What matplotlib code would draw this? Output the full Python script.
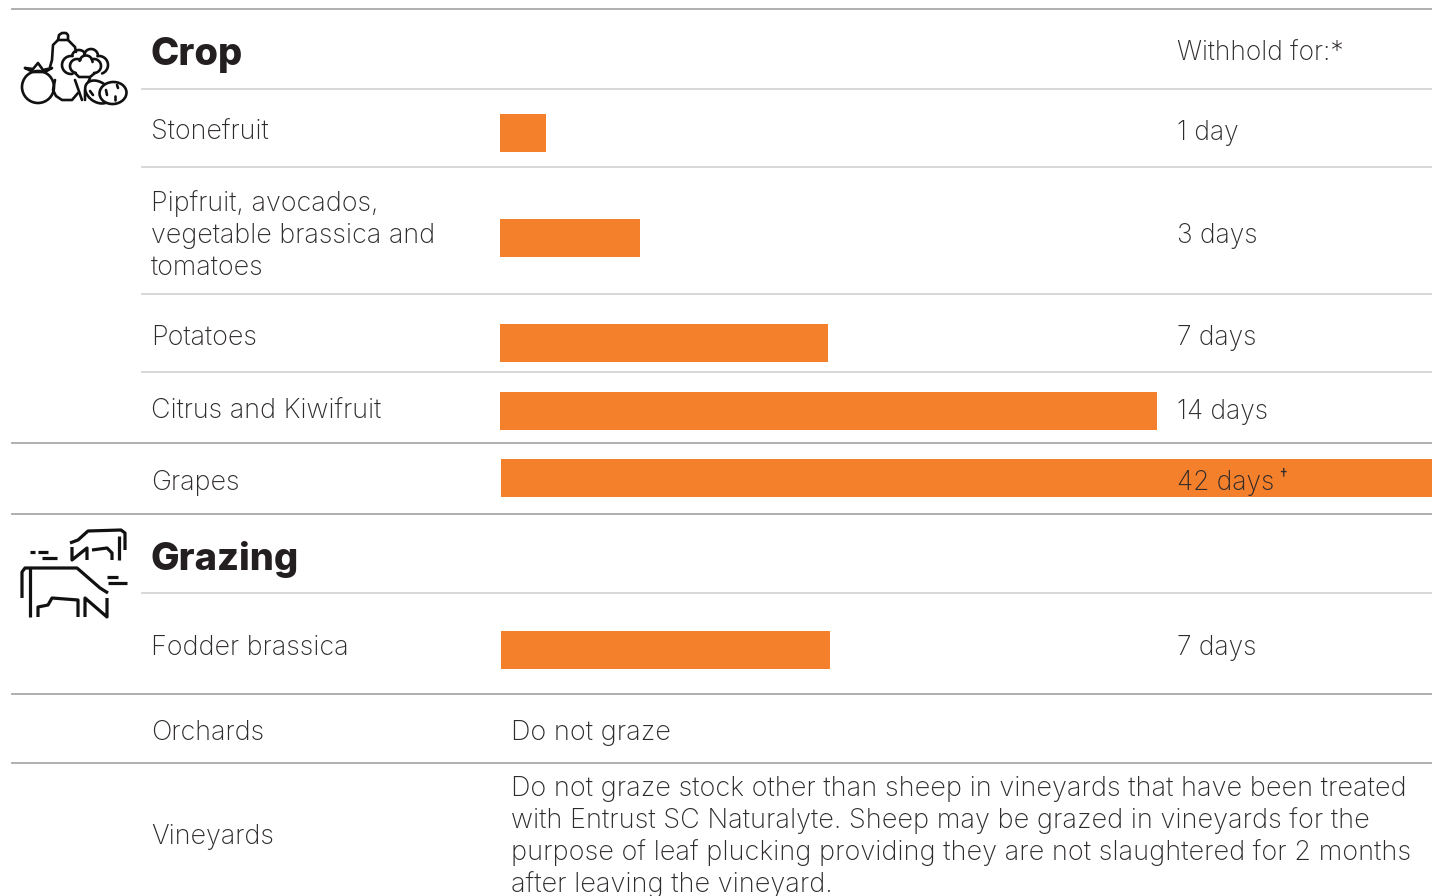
#!/usr/bin/env python3
"""Withholding periods for crops and grazing, drawn as a table with bars."""

import numpy as np
import matplotlib
matplotlib.use('Agg')
import matplotlib.pyplot as plt
from matplotlib.patches import Circle, Ellipse

# Data
bar_days = [1, 3, 7, 14, 42, 7]
bar_rows = [133, 238, 343, 411, 478, 650]
bar_offsets = [0, 0, 0, 0.02, 0.04, 0.04]

crop_names = [['Stonefruit'], ['Pipfruit, avocados,', 'vegetable brassica and', 'tomatoes'],
              ['Potatoes'], ['Citrus and Kiwifruit'], ['Grapes'], ['Fodder brassica'],
              ['Orchards'], ['Vineyards']]
crop_baselines = [[140], [211, 243, 275], [345], [419], [490], [655], [740], [844]]
period_labels = ['1 day', '3 days', '7 days', '14 days', '42 days', '7 days']
period_baselines = [140, 243, 345, 419, 490, 655]
notes = ['Do not graze',
         'Do not graze stock other than sheep in vineyards that have been treated',
         'with Entrust SC Naturalyte. Sheep may be grazed in vineyards for the',
         'purpose of leaf plucking providing they are not slaughtered for 2 months',
         'after leaving the vineyard.']
note_baselines = [740, 796, 828, 860, 892]

dark_rules = [(9, 11), (443, 11), (514, 11), (694, 11), (763, 11)]
light_rules = [(89, 141), (167, 141), (294, 141), (372, 141), (593, 141)]

ORANGE = '#f5802b'
TEXT = '#2f2b2c'
INK = '#111111'
PX_PER_DAY = 46.9


def scallop(ax, cx, cy, r, a0, a1, **kw):
    """Arc of a bump, angles in degrees as seen on screen."""
    t = np.radians(np.linspace(a0, a1, 30))
    ax.plot(cx + r * np.cos(t), cy - r * np.sin(t), **kw)


def draw_crop_icon(ax):
    """Vegetable pile, drawn from outlines."""
    kw = dict(color=INK, lw=1.9, solid_capstyle='round', solid_joinstyle='round')
    # squash
    ax.plot([50, 52, 53, 58, 68, 75, 76], [67, 60, 45, 40, 40, 47, 52], **kw)
    ax.plot([58, 59, 62, 66, 68, 68], [40, 35, 33, 33, 35, 40], **kw)
    ax.plot([55, 53, 56, 62, 72, 78], [80, 90, 96, 100, 100, 93], **kw)
    # tomato
    ax.add_patch(Circle((38, 87), 16, fill=False, ec=INK, lw=1.9))
    ax.plot([25, 33, 38, 43, 52, 45, 33, 25], [68, 69, 63, 70, 68, 72, 72, 68], **kw)
    # broccoli, outer and inner clouds
    scallop(ax, 71, 65, 9, 80, 280, **kw)
    scallop(ax, 79, 57, 7, 30, 170, **kw)
    scallop(ax, 91, 56, 7, 0, 170, **kw)
    scallop(ax, 99, 65, 9, -70, 100, **kw)
    scallop(ax, 77, 66, 7, 60, 260, **kw)
    scallop(ax, 86, 62, 6.5, 0, 170, **kw)
    scallop(ax, 94, 66, 7, -90, 110, **kw)
    ax.plot([75, 79, 90, 95], [73, 77, 77, 73], **kw)
    ax.plot([75, 82], [80, 100], **kw)
    ax.plot([90, 85, 85], [78, 90, 100], **kw)
    # potatoes
    ax.add_patch(Ellipse((98, 92), 28, 20, angle=35, fc='white', ec=INK, lw=1.9, zorder=3))
    ax.add_patch(Ellipse((113, 93), 27, 22, angle=-5, fc='white', ec=INK, lw=1.9, zorder=4))
    ax.plot([106, 107], [90, 95], zorder=5, **kw)
    ax.plot([117, 118], [85, 88], zorder=5, **kw)
    ax.plot([115, 115], [96, 100], zorder=5, **kw)
    ax.plot([90, 93], [91, 95], zorder=5, **kw)


def draw_grazing_icon(ax):
    """Two cattle in outline with motion marks."""
    kw = dict(color=INK, lw=2.3, solid_capstyle='butt', solid_joinstyle='round')
    # small cow, rear
    ax.plot([70, 78, 88, 121, 125, 125], [543, 540, 531, 530, 533, 550], **kw)
    ax.plot([119, 119], [536, 560], **kw)
    ax.plot([72, 72, 87, 87], [547, 560, 548, 560], **kw)
    ax.plot([92, 107, 112, 112], [550, 548, 553, 560], **kw)
    # motion marks
    ax.plot([30, 35], [552, 552], **kw)
    ax.plot([38, 48], [552, 552], **kw)
    ax.plot([42, 57], [558, 558], **kw)
    ax.plot([107, 118], [577, 577], **kw)
    ax.plot([108, 127], [583, 583], **kw)
    # big cow, front
    ax.plot([22, 22, 25, 77, 100, 108], [598, 572, 568, 568, 588, 593], **kw)
    ax.plot([30, 30], [568, 617], **kw)
    ax.plot([38, 38, 48, 52, 78, 78], [617, 607, 605, 598, 600, 617], **kw)
    ax.plot([85, 85, 107, 107], [617, 598, 617, 598], **kw)


def main():
    fig = plt.figure(figsize=(14.32, 8.96), dpi=100, facecolor='white')
    plt.rcParams['font.family'] = ['Inter', 'DejaVu Sans']

    # Bars get their own axes: x in days, starting at 499.5 px and clipped at the edge
    bar_ax = fig.add_axes([499.5 / 1432, 0, 932.5 / 1432, 1])
    bar_ax.set_xlim(0, 932.5 / PX_PER_DAY)
    bar_ax.set_ylim(896, 0)
    bar_ax.axis('off')
    bar_ax.barh(bar_rows, bar_days, left=bar_offsets, height=38, color=ORANGE, linewidth=0)

    ax = fig.add_axes([0, 0, 1, 1], zorder=2)
    ax.patch.set_alpha(0)
    ax.set_xlim(0, 1432)
    ax.set_ylim(896, 0)
    ax.axis('off')

    for y, x0 in dark_rules:
        ax.plot([x0 + 0.5, 1432], [y, y], color='#a9a9a9', lw=1.3)
    for y, x0 in light_rules:
        ax.plot([x0 + 0.5, 1432], [y, y], color='#d4d4d4', lw=1.3)

    txt = dict(color=TEXT, fontweight='light', va='baseline')
    for lines, ys in zip(crop_names, crop_baselines):
        for line, y in zip(lines, ys):
            ax.text(151, y, line, fontsize=19.4, **txt)
    for label, y in zip(period_labels, period_baselines):
        ax.text(1177, y, label, fontsize=19, **txt)
    ax.text(1279, 480, '†', color=TEXT, fontsize=11, va='baseline')
    for line, y in zip(notes, note_baselines):
        ax.text(511, y, line, fontsize=19.5, **txt)
    ax.text(1177, 61, 'Withhold for:*', fontsize=19, **txt)

    head = dict(color='#231f20', fontsize=27.4, fontweight=800, va='baseline')
    ax.text(151, 65, 'Crop', **head)
    ax.text(151, 570, 'Grazing', **head)

    draw_crop_icon(ax)
    draw_grazing_icon(ax)

    fig.savefig('out.png', dpi=100)
    plt.close(fig)


if __name__ == "__main__":
    main()
